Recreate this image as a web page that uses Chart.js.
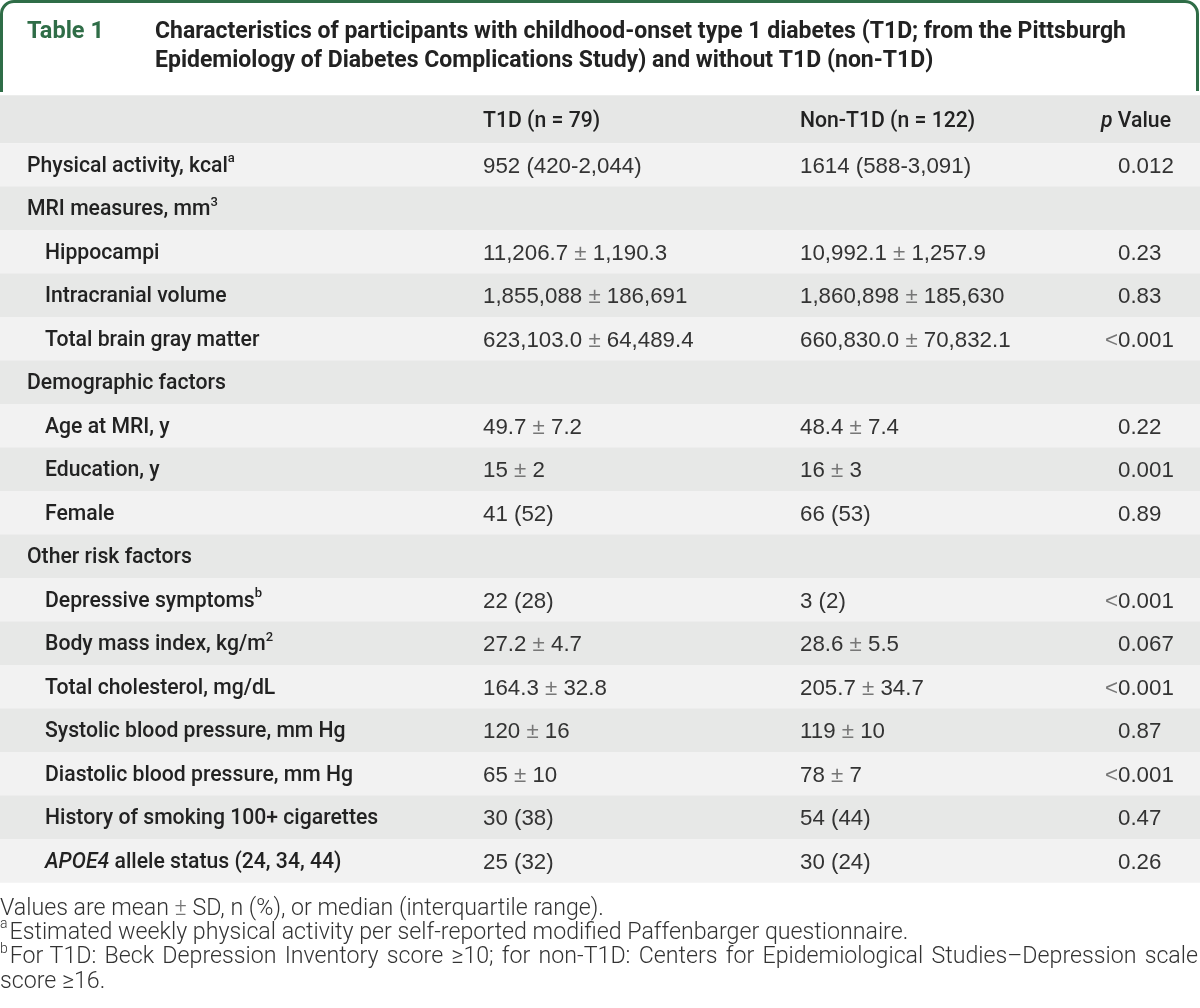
<!DOCTYPE html>
<html>
<head>
<meta charset="utf-8">
<script src="https://cdn.jsdelivr.net/npm/chart.js@4.4.1/dist/chart.umd.min.js"></script>
<style>
  html, body { margin: 0; padding: 0; background: #fff; }
  #wrap { width: 1200px; height: 1008px; }
</style>
</head>
<body>
<div id="wrap"><canvas id="table" width="1200" height="1008"></canvas></div>
<script>
// ---- table content ----
const tableNo = 'Table 1';
const titleLines = [
  'Characteristics of participants with childhood-onset type 1 diabetes (T1D; from the Pittsburgh',
  'Epidemiology of Diabetes Complications Study) and without T1D (non-T1D)'
];
const columnHeads = ['T1D (n = 79)', 'Non-T1D (n = 122)', '*p* Value'];

// ^{x} = superscript, *x* = italic
const rowLabels = [
  'Physical activity, kcal^{a}',
  'MRI measures, mm^{3}',
  'Hippocampi',
  'Intracranial volume',
  'Total brain gray matter',
  'Demographic factors',
  'Age at MRI, y',
  'Education, y',
  'Female',
  'Other risk factors',
  'Depressive symptoms^{b}',
  'Body mass index, kg/m^{2}',
  'Total cholesterol, mg/dL',
  'Systolic blood pressure, mm Hg',
  'Diastolic blood pressure, mm Hg',
  'History of smoking 100+ cigarettes',
  '*APOE4* allele status (24, 34, 44)'
];
const rowIndent = [0, 0, 1, 1, 1, 0, 1, 1, 1, 0, 1, 1, 1, 1, 1, 1, 1];
const t1dValues = [
  '952 (420-2,044)', '', '11,206.7 ± 1,190.3', '1,855,088 ± 186,691', '623,103.0 ± 64,489.4',
  '', '49.7 ± 7.2', '15 ± 2', '41 (52)',
  '', '22 (28)', '27.2 ± 4.7', '164.3 ± 32.8', '120 ± 16', '65 ± 10', '30 (38)', '25 (32)'
];
const nonT1dValues = [
  '1614 (588-3,091)', '', '10,992.1 ± 1,257.9', '1,860,898 ± 185,630', '660,830.0 ± 70,832.1',
  '', '48.4 ± 7.4', '16 ± 3', '66 (53)',
  '', '3 (2)', '28.6 ± 5.5', '205.7 ± 34.7', '119 ± 10', '78 ± 7', '54 (44)', '30 (24)'
];
const pValues = [
  '0.012', '', '0.23', '0.83', '<0.001',
  '', '0.22', '0.001', '0.89',
  '', '<0.001', '0.067', '<0.001', '0.87', '<0.001', '0.47', '0.26'
];
const footnotes = [
  'Values are mean ± SD, n (%), or median (interquartile range).',
  '^{a}Estimated weekly physical activity per self-reported modified Paffenbarger questionnaire.',
  '^{b}For T1D: Beck Depression Inventory score ≥10; for non-T1D: Centers for Epidemiological Studies–Depression scale',
  'score ≥16.'
];

// ---- look ----
const green = '#2f6d47';
const headBand = '#e6e7e6';
const darkBand = '#e7e8e7';
const lightBand = '#f2f2f2';
const labelFamily = 'Roboto, "Liberation Sans", sans-serif';
const valueFamily = '"Liberation Sans", Arial, sans-serif';
const colX = { label: 27, indent: 45, t1d: 483, non: 800, p: 1118, pRight: 1171 };

function parts(text) {
  return text.split(/(\^\{[^}]*\}|\*[^*]+\*|[±<])/).filter(s => s !== '').map(s => {
    if (s.startsWith('^{')) return { t: s.slice(2, -1), sup: true };
    if (s.startsWith('*') && s.length > 1) return { t: s.slice(1, -1), it: true };
    if (s === '±' || s === '<') return { t: s, sym: true };
    return { t: s };
  });
}

function fontFor(p, size, weight, family) {
  const sz = p.sup ? Math.round(size * 0.6) : size;
  return (p.it ? 'italic ' : '') + weight + ' ' + sz + 'px ' + family;
}

function richWidth(ctx, text, size, weight, family) {
  let w = 0;
  parts(text).forEach(p => { ctx.font = fontFor(p, size, weight, family); w += ctx.measureText(p.t).width; });
  return w;
}

function drawRich(ctx, text, x, y, size, weight, family, color, align) {
  if (align === 'right') x -= richWidth(ctx, text, size, weight, family);
  ctx.textAlign = 'left';
  ctx.textBaseline = 'middle';
  parts(text).forEach(p => {
    ctx.font = fontFor(p, size, weight, family);
    ctx.fillStyle = p.sym ? '#777' : color;
    ctx.fillText(p.t, x, p.sup ? y - size * 0.36 : y);
    x += ctx.measureText(p.t).width + (p.sup ? 2 : 0);
  });
}

const tablePlugin = {
  id: 'tableText',
  beforeDatasetsDraw(chart) {
    const ctx = chart.ctx;
    const top = chart.chartArea.top;
    ctx.save();
    // heading box
    ctx.strokeStyle = green;
    ctx.lineWidth = 3;
    ctx.beginPath();
    ctx.moveTo(1.5, 92);
    ctx.lineTo(1.5, 14);
    ctx.arcTo(1.5, 1.5, 14, 1.5, 12.5);
    ctx.lineTo(1185, 1.5);
    ctx.arcTo(1197.5, 1.5, 1197.5, 14, 12.5);
    ctx.lineTo(1197.5, 91);
    ctx.stroke();
    // column head band
    ctx.fillStyle = headBand;
    ctx.fillRect(0, top - 48, chart.width, 48);
    ctx.restore();
  },
  afterDatasetsDraw(chart) {
    const ctx = chart.ctx;
    const yScale = chart.scales.y;
    const top = chart.chartArea.top;
    ctx.save();
    drawRich(ctx, tableNo, colX.label, 32, 23.5, 700, labelFamily, green);
    titleLines.forEach((line, i) => drawRich(ctx, line, 155, 32 + i * 29.5, 23, 700, labelFamily, '#222'));

    const headY = top - 22;
    drawRich(ctx, columnHeads[0], colX.t1d, headY, 21.2, 500, labelFamily, '#222');
    drawRich(ctx, columnHeads[1], colX.non, headY, 21.2, 500, labelFamily, '#222');
    drawRich(ctx, columnHeads[2], colX.pRight, headY, 21.2, 500, labelFamily, '#222', 'right');

    rowLabels.forEach((lab, i) => {
      const y = yScale.getPixelForValue(i) + 1.5;
      drawRich(ctx, lab, rowIndent[i] ? colX.indent : colX.label, y, 21.2, 500, labelFamily, '#222');
      drawRich(ctx, t1dValues[i], colX.t1d, y, 22.3, 400, valueFamily, '#333');
      drawRich(ctx, nonT1dValues[i], colX.non, y, 22.3, 400, valueFamily, '#333');
      const pv = pValues[i];
      if (pv.startsWith('<')) {
        drawRich(ctx, '<', colX.p, y, 22.3, 400, valueFamily, '#333', 'right');
        drawRich(ctx, pv.slice(1), colX.p, y, 22.3, 400, valueFamily, '#333');
      } else {
        drawRich(ctx, pv, colX.p, y, 22.3, 400, valueFamily, '#333');
      }
    });

    // notes under the table
    const noteSize = 23.2;
    footnotes.forEach((note, i) => {
      const y = 909 + i * 24.3;
      if (i === 2) {
        // justified line
        const words = note.split(' ');
        const ws = words.map(w => richWidth(ctx, w, noteSize, 300, labelFamily));
        const gap = (1198 - ws.reduce((a, b) => a + b, 0)) / (words.length - 1);
        let x = 0;
        words.forEach((w, k) => { drawRich(ctx, w, x, y, noteSize, 300, labelFamily, '#333'); x += ws[k] + gap; });
      } else {
        drawRich(ctx, note, 0, y, noteSize, 300, labelFamily, '#333');
      }
    });
    ctx.restore();
  }
};

new Chart(document.getElementById('table'), {
  type: 'bar',
  data: {
    labels: rowLabels,
    datasets: [{
      data: rowLabels.map(() => [0, 1]),
      backgroundColor: rowLabels.map((_, i) => i % 2 ? darkBand : lightBand),
      borderWidth: 0,
      barPercentage: 1,
      categoryPercentage: 1
    }]
  },
  options: {
    indexAxis: 'y',
    responsive: false,
    animation: false,
    events: [],
    layout: { padding: { top: 143.25, bottom: 125.25, left: 0, right: 0 } },
    scales: {
      x: { type: 'linear', min: 0, max: 1, display: false },
      y: { type: 'category', display: false, offset: true }
    },
    plugins: {
      legend: { display: false },
      tooltip: { enabled: false }
    }
  },
  plugins: [tablePlugin]
});
</script>
</body>
</html>
